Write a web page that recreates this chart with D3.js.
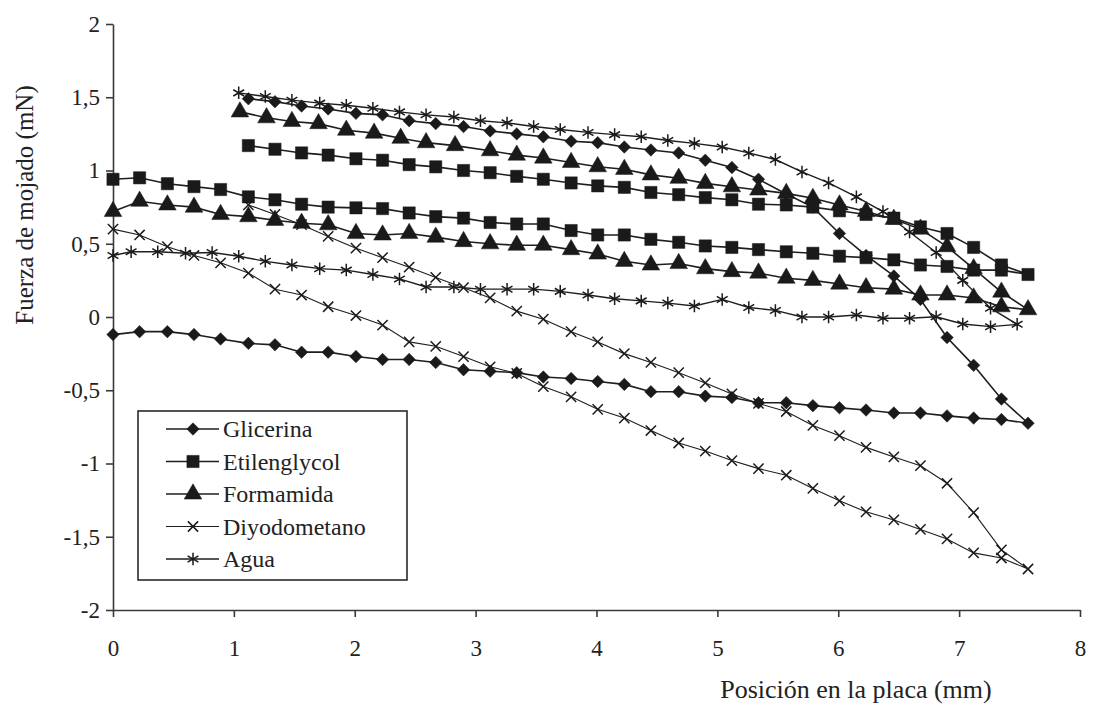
<!DOCTYPE html>
<html>

<head>
  <meta charset="utf-8">
  <title>Fuerza de mojado</title>
  <style>
    body {
      margin: 0;
      background: #fff;
    }

    svg text {
      font-family: "Liberation Serif", "DejaVu Serif", "Noto Serif", serif;
    }

    .axis path,
    .axis line {
      stroke: #3a3a3a;
      stroke-width: 1.6px;
    }

    .axis text {
      font-family: "Liberation Serif", "DejaVu Serif", serif;
      font-size: 23px;
      fill: #222;
    }

    .serie {
      fill: none;
      stroke: #1e1e1e;
    }
  </style>
</head>

<body>
  <svg width="1094" height="705"></svg>

  <script src="https://d3js.org/d3.v7.min.js"></script>
  <script>
    // posiciones (mm): rejilla comun de la ida
    var posIda = [0, 0.22, 0.45, 0.67, 0.89, 1.12, 1.34, 1.56, 1.78, 2.01, 2.23, 2.45, 2.67, 2.90, 3.12, 3.34,
      3.56, 3.79, 4.01, 4.23, 4.45, 4.68, 4.90, 5.12, 5.34, 5.57, 5.79, 6.01, 6.23, 6.46, 6.68, 6.90, 7.12,
      7.35, 7.57];
    var posVuelta = [1.12, 1.34, 1.56, 1.78, 2.01, 2.23, 2.45, 2.67, 2.90, 3.12, 3.34, 3.56, 3.79, 4.01, 4.23,
      4.45, 4.68, 4.90, 5.12, 5.34, 5.57, 5.79, 6.01, 6.23, 6.46, 6.68, 6.90, 7.12, 7.35];

    // Glicerina
    var glicerinaIda = [-0.12, -0.10, -0.10, -0.12, -0.15, -0.18, -0.19, -0.24, -0.24, -0.27, -0.29, -0.29,
      -0.31, -0.36, -0.37, -0.38, -0.41, -0.42, -0.44, -0.46, -0.51, -0.51, -0.54, -0.55, -0.585, -0.585,
      -0.605, -0.62, -0.635, -0.655, -0.655, -0.675, -0.69, -0.70, -0.725];
    var glicerinaVuelta = [1.49, 1.47, 1.44, 1.42, 1.39, 1.38, 1.34, 1.32, 1.30, 1.27, 1.25, 1.23, 1.20, 1.19,
      1.16, 1.14, 1.12, 1.07, 1.02, 0.94, 0.84, 0.75, 0.57, 0.42, 0.28, 0.12, -0.14, -0.33, -0.56];

    // Etilenglycol
    var etilenglycolIda = [0.94, 0.95, 0.91, 0.89, 0.87, 0.82, 0.80, 0.77, 0.75, 0.745, 0.74, 0.71, 0.685,
      0.675, 0.645, 0.635, 0.635, 0.59, 0.56, 0.56, 0.53, 0.51, 0.485, 0.475, 0.46, 0.445, 0.435, 0.415,
      0.405, 0.39, 0.355, 0.345, 0.32, 0.32, 0.29];
    var etilenglycolVuelta = [1.17, 1.145, 1.12, 1.105, 1.08, 1.07, 1.04, 1.025, 1.00, 0.985, 0.96, 0.94,
      0.915, 0.895, 0.885, 0.85, 0.835, 0.815, 0.80, 0.77, 0.765, 0.75, 0.725, 0.70, 0.675, 0.615, 0.57,
      0.475, 0.355];

    // Formamida
    var formamidaIda = [0.72, 0.79, 0.765, 0.75, 0.70, 0.685, 0.66, 0.64, 0.63, 0.57, 0.56, 0.57, 0.545,
      0.515, 0.50, 0.49, 0.49, 0.46, 0.43, 0.38, 0.355, 0.365, 0.33, 0.31, 0.30, 0.265, 0.25, 0.225, 0.20,
      0.19, 0.15, 0.15, 0.13, 0.07, 0.05];
    var formamidaPosVuelta = [1.05, 1.27, 1.48, 1.70, 1.93, 2.16, 2.38, 2.59, 2.83, 3.12, 3.34, 3.56, 3.79,
      4.01, 4.23, 4.45, 4.68, 4.90, 5.12, 5.34, 5.57, 5.79, 6.01, 6.23, 6.46, 6.68, 6.90, 7.12, 7.35];
    var formamidaVuelta = [1.40, 1.36, 1.335, 1.32, 1.275, 1.255, 1.22, 1.19, 1.17, 1.135, 1.105, 1.085,
      1.055, 1.026, 1.008, 0.97, 0.947, 0.912, 0.889, 0.867, 0.844, 0.81, 0.765, 0.72, 0.667, 0.60, 0.48,
      0.33, 0.17];

    // Diyodometano
    var diyodometanoIda = [0.60, 0.56, 0.48, 0.42, 0.37, 0.30, 0.19, 0.15, 0.07, 0.01, -0.055, -0.17, -0.20,
      -0.27, -0.34, -0.385, -0.475, -0.545, -0.63, -0.69, -0.775, -0.86, -0.915, -0.98, -1.035, -1.08,
      -1.17, -1.255, -1.33, -1.385, -1.45, -1.515, -1.61, -1.645, -1.72];
    var diyodometanoVuelta = [0.765, 0.70, 0.63, 0.55, 0.47, 0.405, 0.34, 0.27, 0.20, 0.13, 0.04, -0.015,
      -0.10, -0.17, -0.25, -0.31, -0.38, -0.45, -0.525, -0.59, -0.645, -0.74, -0.81, -0.89, -0.955, -1.015,
      -1.135, -1.335, -1.59];

    // Agua (otra rejilla de posiciones)
    var aguaPosIda = [0, 0.15, 0.37, 0.60, 0.82, 1.04, 1.26, 1.48, 1.71, 1.93, 2.15, 2.37, 2.59, 2.82, 3.04,
      3.26, 3.48, 3.70, 3.93, 4.15, 4.37, 4.59, 4.81, 5.04, 5.26, 5.48, 5.70, 5.92, 6.15, 6.37, 6.59, 6.81,
      7.03, 7.26, 7.48];
    var aguaPosVuelta = [1.04, 1.26, 1.48, 1.71, 1.93, 2.15, 2.37, 2.59, 2.82, 3.04, 3.26, 3.48, 3.70, 3.93,
      4.15, 4.37, 4.59, 4.81, 5.04, 5.26, 5.48, 5.70, 5.92, 6.15, 6.37, 6.59, 6.81, 7.03, 7.26];
    var aguaIda = [0.42, 0.445, 0.445, 0.435, 0.44, 0.415, 0.38, 0.355, 0.33, 0.32, 0.29, 0.26, 0.205, 0.205,
      0.19, 0.19, 0.19, 0.175, 0.15, 0.125, 0.11, 0.095, 0.075, 0.12, 0.065, 0.045, 0.0, 0.0, 0.014,
      -0.009, -0.009, 0.002, -0.048, -0.066, -0.05];
    var aguaVuelta = [1.53, 1.505, 1.48, 1.46, 1.445, 1.425, 1.40, 1.38, 1.365, 1.34, 1.325, 1.30, 1.28, 1.26,
      1.245, 1.23, 1.205, 1.185, 1.16, 1.12, 1.075, 0.99, 0.915, 0.82, 0.72, 0.58, 0.44, 0.25, 0.06];

    var xTicks = [0, 1, 2, 3, 4, 5, 6, 7, 8];
    var yTicks = [-2, -1.5, -1, -0.5, 0, 0.5, 1, 1.5, 2];

    // ida (x creciente) y luego vuelta (x decreciente): un lazo por liquido
    function lazo(xIda, yIda, xVuelta, yVuelta) {
      var pts = xIda.map(function(x, i) { return [x, yIda[i]]; });
      for (var i = xVuelta.length - 1; i >= 0; i--) pts.push([xVuelta[i], yVuelta[i]]);
      return pts;
    }

    var series = [
      { name: 'Glicerina', symbol: d3.symbolSquare, rot: 45, size: 78, fill: true, width: 1.6,
        points: lazo(posIda, glicerinaIda, posVuelta, glicerinaVuelta) },
      { name: 'Etilenglycol', symbol: d3.symbolSquare, rot: 0, size: 150, fill: true, width: 1.6,
        points: lazo(posIda, etilenglycolIda, posVuelta, etilenglycolVuelta) },
      { name: 'Formamida', symbol: d3.symbolTriangle, rot: 0, size: 135, fill: true, width: 1.6,
        points: lazo(posIda, formamidaIda, formamidaPosVuelta, formamidaVuelta) },
      { name: 'Diyodometano', symbol: d3.symbolTimes, rot: 0, size: 70, fill: false, width: 1.1,
        points: lazo(posIda, diyodometanoIda, posVuelta, diyodometanoVuelta) },
      { name: 'Agua', symbol: d3.symbolAsterisk, rot: 0, size: 110, fill: false, width: 1.4,
        points: lazo(aguaPosIda, aguaIda, aguaPosVuelta, aguaVuelta) }
    ];

    var svg = d3.select('svg');

    var x = d3.scaleLinear().domain([0, 8]).range([113, 1080]);
    var y = d3.scaleLinear().domain([-2, 2]).range([610, 24]);

    var coma = function(d) { return String(d).replace('.', ','); };

    svg.append('g')
      .attr('class', 'axis')
      .attr('transform', 'translate(0,' + y(-2) + ')')
      .call(d3.axisBottom(x).tickValues(xTicks).tickSize(7).tickSizeOuter(0).tickPadding(23));

    svg.append('g')
      .attr('class', 'axis')
      .attr('transform', 'translate(' + x(0) + ',0)')
      .call(d3.axisLeft(y).tickValues(yTicks).tickFormat(coma).tickSize(7).tickSizeOuter(0).tickPadding(6));

    // titulos de ejes
    svg.append('text')
      .attr('transform', 'translate(33,205) rotate(-90)')
      .attr('text-anchor', 'middle')
      .style('font-size', '25px')
      .style('fill', '#222')
      .text('Fuerza de mojado (mN)');

    svg.append('text')
      .attr('x', 856)
      .attr('y', 698)
      .attr('text-anchor', 'middle')
      .style('font-size', '26px')
      .style('fill', '#222')
      .text('Posición en la placa (mm)');

    var line = d3.line()
      .x(function(d) { return x(d[0]); })
      .y(function(d) { return y(d[1]); });

    function marcador(g, s) {
      return g.append('path')
        .attr('d', d3.symbol().type(s.symbol).size(s.size))
        .attr('fill', s.fill ? '#1a1a1a' : 'none')
        .attr('stroke', '#1a1a1a')
        .attr('stroke-width', s.fill ? 0.5 : 1.5);
    }

    series.forEach(function(s) {
      var g = svg.append('g');
      g.append('path')
        .datum(s.points)
        .attr('class', 'serie')
        .attr('stroke-width', s.width)
        .attr('d', line);
      s.points.forEach(function(p) {
        marcador(g, s).attr('transform', 'translate(' + x(p[0]) + ',' + y(p[1]) + ') rotate(' + s.rot + ')');
      });
    });

    // leyenda
    var legend = svg.append('g');
    legend.append('rect')
      .attr('x', 138).attr('y', 411)
      .attr('width', 269).attr('height', 169)
      .attr('fill', '#fff')
      .attr('stroke', '#2a2a2a')
      .attr('stroke-width', 1.6);

    series.forEach(function(s, i) {
      var cy = 429 + i * 32.5;
      legend.append('line')
        .attr('x1', 166).attr('x2', 219)
        .attr('y1', cy).attr('y2', cy)
        .attr('stroke', '#1e1e1e')
        .attr('stroke-width', s.width);
      marcador(legend, s).attr('transform', 'translate(193,' + cy + ') rotate(' + s.rot + ')');
      legend.append('text')
        .attr('x', 223)
        .attr('y', cy)
        .attr('dy', '0.35em')
        .style('font-size', '24px')
        .style('fill', '#222')
        .text(s.name);
    });
  </script>
</body>

</html>
